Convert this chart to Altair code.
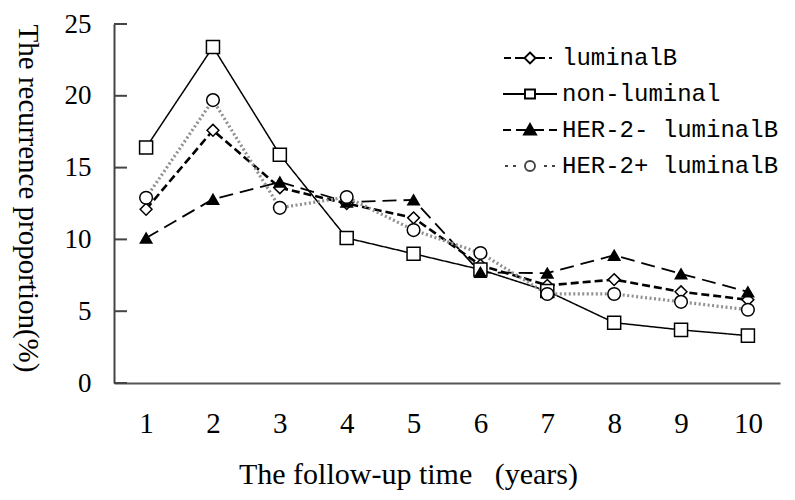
import altair as alt
import pandas as pd

years = [1, 2, 3, 4, 5, 6, 7, 8, 9, 10]
series = ["luminalB", "non-luminal", "HER-2- luminalB", "HER-2+ luminalB"]
luminalB = [12.1, 17.6, 13.6, 12.5, 11.5, 8.2, 6.8, 7.2, 6.35, 5.8]
non_luminal = [16.4, 23.4, 15.9, 10.1, 9.0, 7.9, 6.4, 4.2, 3.7, 3.3]
her2_neg = [10.1, 12.8, 14.0, 12.6, 12.75, 7.7, 7.65, 8.9, 7.6, 6.35]
her2_pos = [12.9, 19.7, 12.2, 12.95, 10.65, 9.05, 6.2, 6.2, 5.65, 5.1]
y_ticks = [0, 5, 10, 15, 20, 25]

values_by_series = [luminalB, non_luminal, her2_neg, her2_pos]
rows = [
    {"year": yr, "value": v, "series": s}
    for s, vals in zip(series, values_by_series)
    for yr, v in zip(years, vals)
]
df = pd.DataFrame(rows)
ticks_df = pd.DataFrame({"tick": y_ticks})

line_dash = [[8, 4], [1, 0], [14, 7], [2, 2.5]]
line_color = ["black", "black", "black", "#909090"]
line_width = [2.6, 1.5, 1.8, 3.2]
point_shape = ["diamond", "square", "triangle-up", "circle"]
point_fill = ["white", "white", "black", "white"]
point_size = [140, 170, 130, 160]
legend_paths = [
    "M-2.6,0H-1.9M-1.5,0H-0.55M0.55,0H1.5M1.9,0H2.2M0,-0.55L0.55,0L0,0.55L-0.55,0Z",
    "M-2.7,0H-0.5M0.5,0H2.7M-0.5,-0.45H0.5V0.45H-0.5Z",
    "M-2.7,0H-1.9M-1.4,0H1.4M1.9,0H2.7M0,-0.6L0.6,0.45H-0.6Z",
    "M-2.5,0H-2.2M-1.7,0H-1.4M1.4,0H1.7M2.2,0H2.5M-0.5,0A0.5,0.5 0 1 0 0.5,0A0.5,0.5 0 1 0 -0.5,0Z",
]
legend_stroke = ["black", "black", "black", "#444"]

serif = "Liberation Serif"

x_scale = alt.Scale(type="point", padding=0.48)
y_scale = alt.Scale(domain=[0, 25], nice=False)

x_axis = alt.Axis(
    title="The follow-up time\u00a0\u00a0\u00a0(years)",
    labelAngle=0, ticks=False, grid=False,
    labelFont=serif, labelFontSize=29, labelColor="black", labelPadding=26,
    domainColor="#555", domainWidth=2,
    titleFont=serif, titleFontSize=30, titleFontWeight="normal", titleColor="black",
    titleX=294, titleY=100, titleAlign="center", titleBaseline="alphabetic",
)
y_axis = alt.Axis(
    title="The recurrence proportion(%)", values=y_ticks,
    ticks=False, grid=False,
    labelFont=serif, labelFontSize=27, labelColor="black", labelPadding=23,
    domainColor="#444", domainWidth=2,
    titleFont=serif, titleFontSize=29, titleFontWeight="normal", titleColor="black",
    titleAngle=90, titleX=-87, titleY=174, titleAlign="center", titleBaseline="middle",
)

lines = alt.Chart(df).mark_line().encode(
    x=alt.X("year:O", scale=x_scale, axis=x_axis),
    y=alt.Y("value:Q", scale=y_scale, axis=y_axis),
    strokeDash=alt.StrokeDash("series:N", scale=alt.Scale(domain=series, range=line_dash), legend=None),
    color=alt.Color("series:N", scale=alt.Scale(domain=series, range=line_color), legend=None),
    strokeWidth=alt.StrokeWidth("series:N", scale=alt.Scale(type="ordinal", domain=series, range=line_width), legend=None),
)

points = alt.Chart(df).mark_point(filled=True, stroke="black", strokeWidth=1.5, opacity=1).encode(
    x=alt.X("year:O", scale=x_scale, axis=x_axis),
    y=alt.Y("value:Q", scale=y_scale, axis=y_axis),
    shape=alt.Shape("series:N", scale=alt.Scale(domain=series, range=point_shape), legend=None),
    fill=alt.Fill("series:N", scale=alt.Scale(domain=series, range=point_fill), legend=None),
    size=alt.Size("series:N", scale=alt.Scale(type="ordinal", domain=series, range=point_size), legend=None),
)

tick_rules = alt.Chart(ticks_df).mark_rule(color="#444", strokeWidth=2).encode(
    y=alt.Y("tick:Q", scale=y_scale, axis=y_axis),
    x=alt.value(0),
    x2=alt.value(13),
)

leg = alt.Legend(
    title=None, orient="none", legendX=404, legendY=22, padding=0,
    symbolSize=400, symbolStrokeWidth=1.9, symbolOpacity=1,
    labelFont="Liberation Mono", labelFontSize=24, labelColor="black",
    labelOffset=20, rowPadding=12, labelLimit=0,
)
legend_layer = alt.Chart(df).transform_filter("false").mark_point(filled=False, opacity=1).encode(
    shape=alt.Shape("series:N", scale=alt.Scale(domain=series, range=legend_paths), legend=leg),
    fill=alt.Fill("series:N", scale=alt.Scale(domain=series, range=point_fill), legend=leg),
    stroke=alt.Stroke("series:N", scale=alt.Scale(domain=series, range=legend_stroke), legend=leg),
)

chart = (
    alt.layer(lines, points, tick_rules, legend_layer)
    .resolve_scale(shape="independent", fill="independent", stroke="independent")
    .properties(
        width=666, height=359,
        padding={"left": 106, "top": 16, "right": 7, "bottom": 109},
        autosize=alt.AutoSizeParams(type="none"),
        background="white",
    )
    .configure_view(stroke=None)
)

chart.save("out.html", embed_options={"renderer": "svg", "actions": False})
